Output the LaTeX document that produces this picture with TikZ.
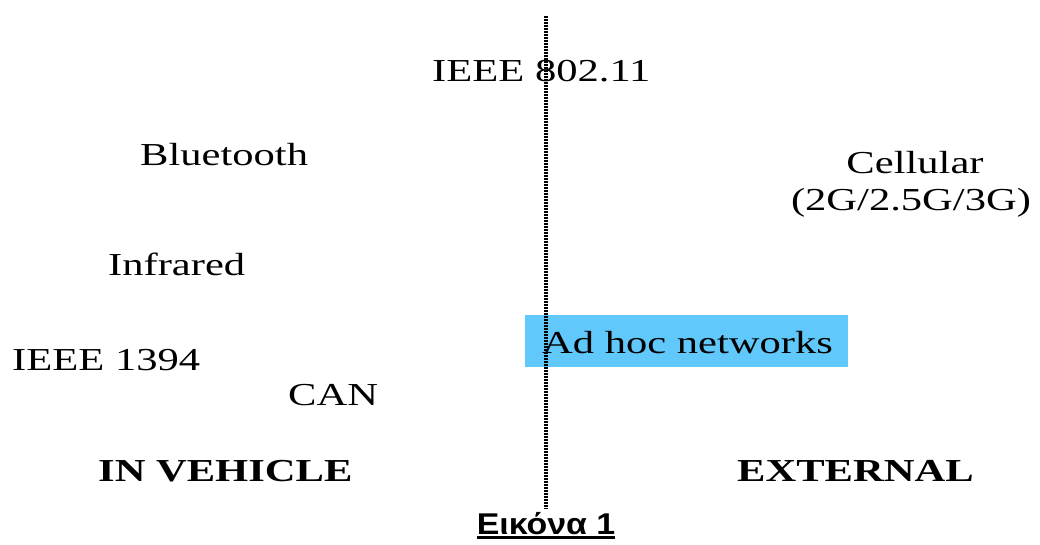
\documentclass[tikz,border=0pt]{standalone}
\usepackage{fontspec}
\setmainfont{Liberation Serif}
\newfontfamily\capfont{Liberation Sans}
\usepackage{graphicx}
\definecolor{adhocblue}{RGB}{96,200,250}
\newcommand\sx[1]{\scalebox{1.33}[1]{#1}}
\tikzset{
  lbl/.style={inner sep=0pt, anchor=base west, font=\fontsize{32}{38}\selectfont},
  lblc/.style={inner sep=0pt, anchor=base, font=\fontsize{32}{38}\selectfont},
  head/.style={inner sep=0pt, anchor=base west, font=\fontsize{32}{38}\selectfont\bfseries},
  divider/.style={line width=3.6pt, dash pattern=on 1.8pt off 1.2pt, black},
  hilite/.style={fill=adhocblue, draw=none},
}
\begin{document}
\begin{tikzpicture}[x=1pt,y=-1pt]
\useasboundingbox (0,0) rectangle (1040,545);
\fill[white] (0,0) rectangle (1040,545);
% highlight box behind "Ad hoc networks"
\fill[hilite] (525,315) rectangle (848,367);
% dividing dotted line
\coordinate (top) at (546,16);
\coordinate (bot) at (546,509);
\draw[divider] (top) -- (bot);
% labels
\node[lbl] (ieee80211) at (432,82) {\sx{IEEE 802.11}};
\node[lbl] (bt) at (140,166) {\sx{Bluetooth}};
\node[lblc] (cell) at (915,174) {\sx{Cellular}};
\node[lblc] (gen) at (911,211) {\sx{(2G/2.5G/3G)}};
\node[lbl] (ir) at (108,275) {\sx{Infrared}};
\node[lbl] (adhoc) at (542,353) {\sx{Ad hoc networks}};
\node[lbl] (ieee1394) at (12,370) {\sx{IEEE 1394}};
\node[lbl] (can) at (288,405) {\sx{CAN}};
\node[head] (inveh) at (98,481) {\sx{IN VEHICLE}};
\node[head] (ext) at (737,481) {\sx{EXTERNAL}};
% caption
\node[inner sep=0pt, anchor=base, font=\capfont\fontsize{30}{36}\selectfont\bfseries] (cap) at (546,534)
  {\scalebox{1.13}[1]{\setbox0\hbox{Εικόνα 1}\rlap{\rule[-4.5pt]{\wd0}{2.2pt}}\box0}};
\end{tikzpicture}
\end{document}
